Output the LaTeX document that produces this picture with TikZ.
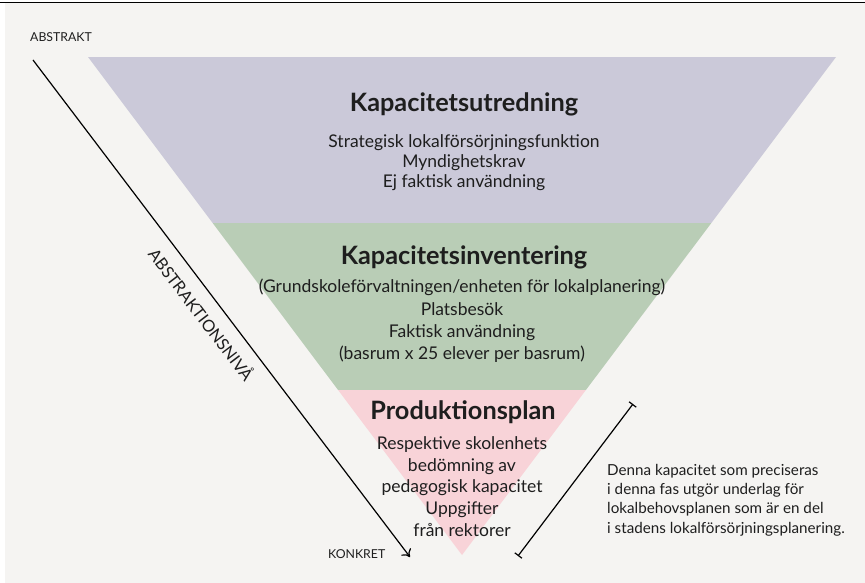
\documentclass[tikz,border=0pt]{standalone}
\usepackage{fontspec}
\setmainfont{Lato}
\usetikzlibrary{arrows.meta}
\definecolor{bg}{HTML}{F5F4F2}
\definecolor{lav}{HTML}{CBC9D9}
\definecolor{sage}{HTML}{B9CDB6}
\definecolor{rose}{HTML}{F8D3D8}
\definecolor{ink}{HTML}{1E1E1E}
\begin{document}
\begin{tikzpicture}[x=1pt,y=-1pt,
  title/.style={font=\fontsize{25.3}{30}\selectfont\bfseries, text=ink, inner sep=0pt},
  body/.style={font=\fontsize{17.5}{#1}\selectfont, align=center, text=ink, inner sep=0pt},
  small/.style={font=\fontsize{12.3}{14}\selectfont, text=ink, inner sep=0pt},
  note/.style={font=\fontsize{15.2}{19.3}\selectfont, align=left, text=ink, inner sep=0pt},
  axis/.style={line width=1.2pt, draw=black}]
\useasboundingbox (0,0) rectangle (865,583);
\fill[white] (0,0) rectangle (865,583);
\fill[bg] (5,3) rectangle (865,583);
\draw[line width=1pt] (0,2.5) -- (865,2.5);
\begin{scope}
  \clip (88,57) -- (836,57) -- (462,555) -- cycle;
  \fill[lav] (0,57) rectangle (865,223);
  \fill[sage] (0,223) rectangle (865,390);
  \fill[rose] (0,390) rectangle (865,560);
\end{scope}

\node[title] (t1) at (464,104) {Kapacitetsutredning};
\node[body=20] (b1) at (464,162.5) {Strategisk lokalförsörjningsfunktion\\Myndighetskrav\\Ej faktisk användning};
\node[title] (t2) at (464,257) {Kapacitetsinventering};
\node[body=22.3] (b2) at (462,321) {(Grundskoleförvaltningen/enheten för lokalplanering)\\Platsbesök\\Faktisk användning\\(basrum x 25 elever per basrum)};
\node[title] (t3) at (463,412) {Produktionsplan};
\node[body=21.75] (b3) at (462,486.5) {Respektive skolenhets\\bedömning av\\pedagogisk kapacitet\\Uppgifter\\från rektorer};

\node[small, anchor=west] (abs) at (30,37) {ABSTRAKT};
\node[small, anchor=west] (kon) at (328,554) {KONKRET};

\coordinate (a0) at (33,60);
\coordinate (a1) at (410,557);
\draw[axis, -{To[length=7pt,width=12pt]}] (a0) -- (a1);
\node[font=\fontsize{16.5}{18}\selectfont, text=ink, rotate=-52.8, inner sep=0pt] (lvl) at (202,314) {ABSTRAKTIONSNIVÅ};

\coordinate (r0) at (633,404);
\coordinate (r1) at (518,556);
\draw[axis, {Bar[width=9pt]}-{Bar[width=9pt]}] (r0) -- (r1);
\node[note, anchor=west] (txt) at (607,500) {Denna kapacitet som preciseras\\i denna fas utgör underlag för\\lokalbehovsplanen som är en del\\i stadens lokalförsörjningsplanering.};
\end{tikzpicture}
\end{document}
